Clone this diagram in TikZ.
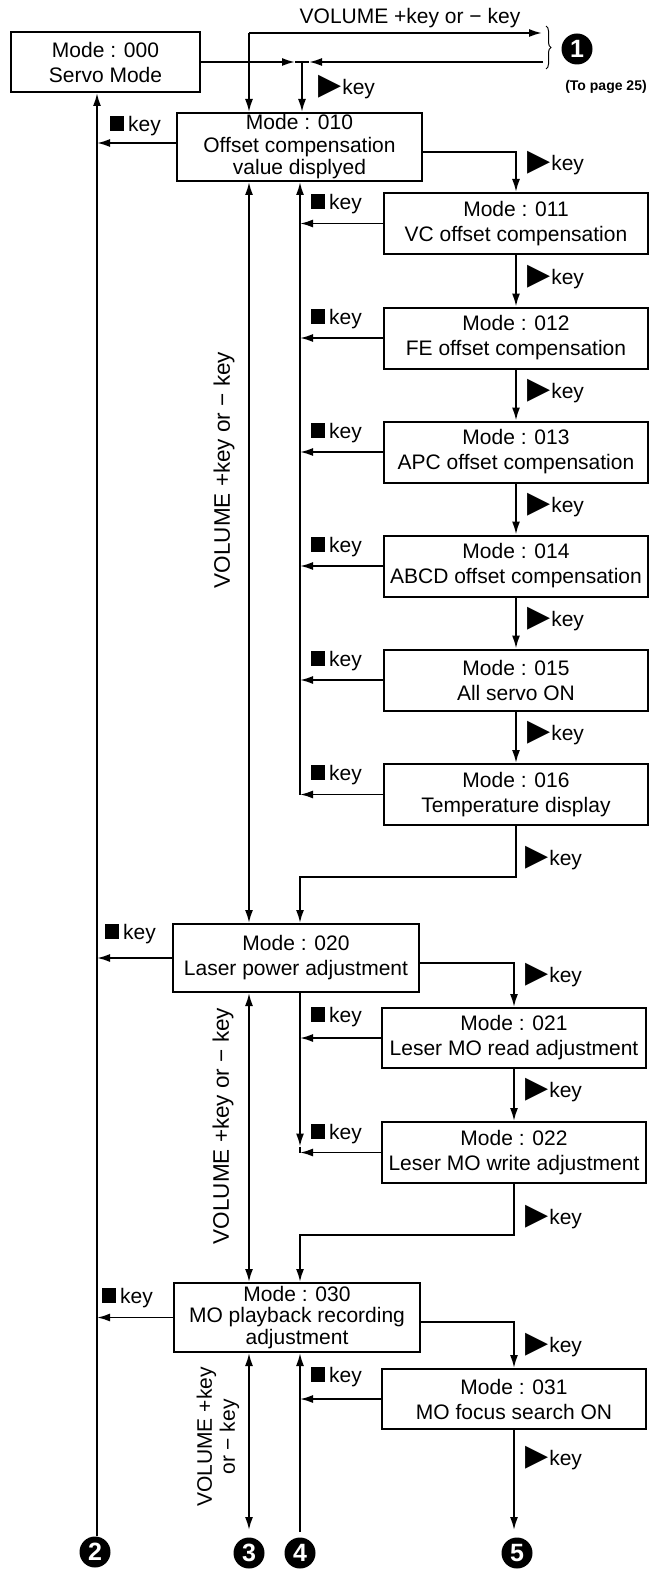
\documentclass[tikz,border=0pt]{standalone}
\usepackage{fontspec}
\usepackage{graphicx}
\setmainfont{Liberation Sans}
\newfontfamily\symfont{DejaVu Sans}
\usetikzlibrary{arrows.meta,decorations.pathreplacing}
\newcommand{\pk}{{\fontsize{30}{30}\symfont ▶}\hspace{1pt}key}
\newcommand{\sk}{\rule{14pt}{15pt}\hspace{4pt}key}
\tikzset{
  modebox/.style={draw, line width=2pt, inner sep=0pt, align=center,
    font=\fontsize{21}{25}\selectfont},
  subbox/.style={modebox, minimum width=264pt, minimum height=61pt},
  conn/.style={line width=1.8pt},
  arr/.style={-{Latex[length=13pt,width=8pt]}},
  darr/.style={{Latex[length=13pt,width=8pt]}-{Latex[length=13pt,width=8pt]}},
  lbl/.style={font=\fontsize{21}{24}\selectfont, inner sep=0pt, anchor=west},
  vlbl/.style={font=\fontsize{21}{23}\selectfont, inner sep=0pt, rotate=90, align=center},
  num/.style={circle, fill=black, text=white, inner sep=0pt, minimum size=31pt,
    font=\fontsize{25}{25}\selectfont\bfseries},
}
\begin{document}
\begin{tikzpicture}[x=1pt,y=-1pt]
\useasboundingbox (0,0) rectangle (653,1570);

% bus coordinates
\coordinate (busL) at (97,0);
\coordinate (busV) at (249,0);
\coordinate (busR) at (300,0);

% main boxes
\node[modebox, minimum width=189pt, minimum height=60pt] (b000) at (105.5,62) {Mode : 000\\Servo Mode};
\node[modebox, minimum width=245pt, minimum height=68pt, font=\fontsize{21}{22.5}\selectfont] (b010) at (299.5,147) {Mode : 010\\Offset compensation\\value displyed};
\node[modebox, minimum width=246pt, minimum height=68pt] (b020) at (296,958) {Mode : 020\\Laser power adjustment};
\node[modebox, minimum width=246pt, minimum height=69pt, font=\fontsize{21}{21.5}\selectfont] (b030) at (297,1317.5) {Mode : 030\\MO playback recording\\adjustment};

% sub boxes
\node[subbox] (b011) at (516,223.5) {Mode : 011\\VC offset compensation};
\node[subbox] (b012) at (516,338) {Mode : 012\\FE offset compensation};
\node[subbox] (b013) at (516,452) {Mode : 013\\APC offset compensation};
\node[subbox] (b014) at (516,566) {Mode : 014\\ABCD offset compensation};
\node[subbox] (b015) at (516,680) {Mode : 015\\All servo ON};
\node[subbox] (b016) at (516,794.5) {Mode : 016\\Temperature display};
\node[subbox, minimum height=60pt] (b021) at (514,1038) {Mode : 021\\Leser MO read adjustment};
\node[subbox] (b022) at (514,1152.5) {Mode : 022\\Leser MO write adjustment};
\node[subbox, minimum height=60pt] (b031) at (514,1399) {Mode : 031\\MO focus search ON};

% top labels
\node[lbl, anchor=center] (title) at (410,18) {VOLUME +key or − key};
\node[num] (n1) at (577,49) {1};
\node[inner sep=0pt, font=\fontsize{14}{14}\selectfont\bfseries] (tp) at (606,87) {(To page 25)};
\draw[line width=1pt, decorate, decoration={brace, amplitude=5pt}] (546,26) -- (546,69);

% top connectors
\coordinate (t1) at (249,33);
\coordinate (r1) at (542,33);
\coordinate (j1) at (302,62);
\coordinate (r2) at (543,62);
\coordinate (j1a) at (295,62);
\coordinate (j1b) at (309,62);
\draw[conn,arr] (t1) -- (r1);
\draw[conn,arr] (t1) -- (t1 |- b010.north);
\draw[conn,arr] (b000.east) -- (j1a);
\draw[conn,arr] (r2) -- (j1b);
\draw[conn] (j1a) -- (j1b);
\draw[conn,arr] (j1) -- (j1 |- b010.north);
\node[lbl] (pk0) at (318,87) {\pk};

% left bus (to 2)
\node[num] (n2) at (95,1552) {2};
\coordinate (e2) at (97,1536);
\draw[conn,arr] (e2) -- (e2 |- b000.south);
\coordinate (a010) at ([yshift=4pt]b010.west);
\draw[conn,arr] (a010) -- (a010 -| busL);
\draw[conn,arr] (b020.west) -- (b020.west -| busL);
\draw[conn,arr] (b030.west) -- (b030.west -| busL);
\node[lbl] (sk010) at (110,126) {\sk};
\node[lbl] (sk020) at (105,934) {\sk};
\node[lbl] (sk030) at (102,1298) {\sk};

% VOLUME bus
\draw[conn,darr] (b010.south -| busV) -- (b020.north -| busV);
\draw[conn,darr] (b020.south -| busV) -- (b030.north -| busV);
\node[num] (n3) at (249,1553) {3};
\coordinate (e3) at (249,1530);
\draw[conn,darr] (b030.south -| busV) -- (e3);
\node[vlbl, font=\fontsize{22.5}{23}\selectfont] (va) at (224,470) {VOLUME +key or − key};
\node[vlbl, font=\fontsize{22.5}{23}\selectfont] (vb) at (223,1126) {VOLUME +key or − key};
\node[vlbl] (vc) at (218,1437) {VOLUME +key\\or − key};

% right column from 010
\coordinate (o010) at ([yshift=-5pt]b010.east);
\draw[conn,arr] (o010) -| (b011.north);
\node[lbl] at (527,163) {\pk};
\draw[conn,arr] (b011.south) -- (b012.north);
\node[lbl] at (527,277) {\pk};
\draw[conn,arr] (b012.south) -- (b013.north);
\node[lbl] at (527,391) {\pk};
\draw[conn,arr] (b013.south) -- (b014.north);
\node[lbl] at (527,505) {\pk};
\draw[conn,arr] (b014.south) -- (b015.north);
\node[lbl] at (527,619) {\pk};
\draw[conn,arr] (b015.south) -- (b016.north);
\node[lbl] at (527,733) {\pk};
\coordinate (k16) at (300,877);
\draw[conn,arr] (b016.south) |- (k16) -- (k16 |- b020.north);
\node[lbl] at (525,858) {\pk};

% return bus 011-016
\coordinate (c16) at (b016.west -| busR);
\draw[conn,arr] (c16) -- (b010.south -| busR);
\foreach \b/\ly in {b011/204,b012/319,b013/433,b014/547,b015/661,b016/775}{
  \draw[conn,arr] (\b.west) -- (\b.west -| busR);
  \node[lbl] at (311,\ly) {\sk};
}

% right column from 020
\coordinate (o020) at ([yshift=-5pt]b020.east);
\draw[conn,arr] (o020) -| (b021.north);
\node[lbl] at (525,975) {\pk};
\draw[conn,arr] (b021.south) -- (b022.north);
\node[lbl] at (525,1090) {\pk};
\coordinate (k22) at (300,1235);
\draw[conn,arr] (b022.south) |- (k22) -- (k22 |- b030.north);
\node[lbl] at (525,1217) {\pk};
\coordinate (c22) at (b022.west -| busR);
\coordinate (c22a) at ([yshift=6pt]c22);
\draw[conn,arr] (b020.south -| busR) -- (c22a);
\draw[conn] (c22a) -- (c22);
\draw[conn,arr] (b021.west) -- (b021.west -| busR);
\draw[conn,arr] (b022.west) -- (c22);
\node[lbl] at (311,1017) {\sk};
\node[lbl] at (311,1134) {\sk};

% right column from 030
\coordinate (o030) at ([yshift=-4.5pt]b030.east);
\draw[conn,arr] (o030) -| (b031.north);
\node[lbl] at (525,1345) {\pk};
\node[num] (n5) at (517,1553) {5};
\coordinate (e5) at (514,1530);
\draw[conn,arr] (b031.south) -- (e5);
\node[lbl] at (525,1458) {\pk};
\node[num] (n4) at (300,1553) {4};
\coordinate (e4) at (300,1532);
\draw[conn,arr] (e4) -- (b030.south -| busR);
\draw[conn,arr] (b031.west) -- (b031.west -| busR);
\node[lbl] at (311,1377) {\sk};
\end{tikzpicture}
\end{document}
